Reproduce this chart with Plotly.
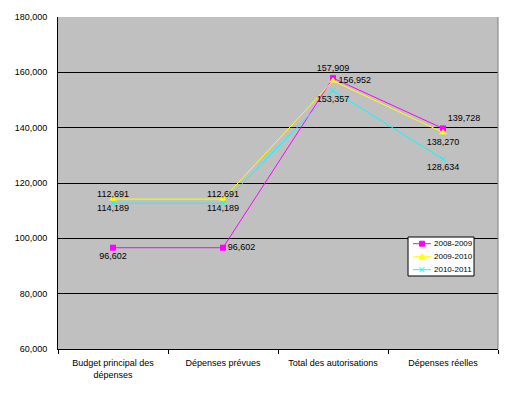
import plotly.graph_objects as go

categories = ["Budget principal des<br>dépenses", "Dépenses prévues", "Total des autorisations", "Dépenses réelles"]
series_names = ["2008-2009", "2009-2010", "2010-2011"]
s2008 = [96602, 96602, 157909, 139728]
s2009 = [114189, 114189, 156952, 138270]
s2010 = [112691, 112691, 153357, 128634]
tick_vals = [60000, 80000, 100000, 120000, 140000, 160000, 180000]
tick_text = ["60,000", "80,000", "100,000", "120,000", "140,000", "160,000", "180,000"]

MAG, YEL, CYA = "#FF00FF", "#FFFF00", "#00FFFF"

def fmt(v):
    return f"{v:,}"

FAM = "Liberation Sans, Arial, sans-serif"
font = dict(family=FAM, size=9, color="black")

fig = go.Figure()
fig.add_trace(go.Scatter(
    x=categories, y=s2008, name=series_names[0], mode="lines+markers+text",
    line=dict(color=MAG, width=1), marker=dict(symbol="square", size=6, color=MAG),
    text=[fmt(v) for v in s2008],
    textposition=["bottom center", "middle right", "top center", "top right"],
    textfont=font, cliponaxis=False))
fig.add_trace(go.Scatter(
    x=categories, y=s2009, name=series_names[1], mode="lines+markers+text",
    line=dict(color=YEL, width=1), marker=dict(symbol="triangle-up", size=7, color=YEL),
    text=[fmt(v) for v in s2009],
    textposition=["bottom center", "bottom center", "middle right", "bottom center"],
    textfont=font, cliponaxis=False))
fig.add_trace(go.Scatter(
    x=categories, y=s2010, name=series_names[2], mode="lines+markers+text",
    line=dict(color=CYA, width=1), marker=dict(symbol="x-thin", size=5, color=CYA, line=dict(color=CYA, width=1)),
    text=[fmt(v) for v in s2010],
    textposition=["top center", "top center", "bottom center", "bottom center"],
    textfont=font, cliponaxis=False))

# page body has an 8px default margin: shrink the figure so the plot lands where the reference has it
fig.update_layout(
    width=514, height=386,
    margin=dict(l=50, r=24, t=9, b=45),
    paper_bgcolor="white", plot_bgcolor="#C0C0C0",
    font=font,
    showlegend=False,
    xaxis=dict(type="category", range=[-0.5, 3.5], tickson="boundaries",
               ticks="outside", ticklen=4, tickcolor="black",
               showline=True, linecolor="black", linewidth=1,
               showgrid=False, mirror=False, tickfont=font, automargin=False,
               ticklabelstandoff=5),
    yaxis=dict(range=[60000, 180000], tickvals=tick_vals, ticktext=tick_text,
               ticks="outside", ticklen=8, tickcolor="rgba(0,0,0,0)",
               showline=True, linecolor="black", linewidth=1,
               showgrid=True, gridcolor="black", gridwidth=1,
               zeroline=False, tickfont=font, automargin=False),
)
fig.add_shape(type="line", xref="paper", yref="paper", x0=1, x1=1, y0=0, y1=1,
              line=dict(color="#808080", width=1))

# custom compact legend (Excel style)
bx0, bx1, by0, by1 = 0.7955, 0.9455, 0.2199, 0.3373
fig.add_shape(type="rect", xref="paper", yref="paper", x0=bx0, x1=bx1, y0=by0, y1=by1,
              line=dict(color="black", width=1), fillcolor="white", layer="above")
rows = [0.3172, 0.2780, 0.2389]
lx0, lx1, lxm, tx = 0.8068, 0.8477, 0.8273, 0.850
colors = [MAG, YEL, CYA]
marker_paths = [
    "M-2.5,-2.5 L2.5,-2.5 L2.5,2.5 L-2.5,2.5 Z",
    "M-3,-2.5 L3,-2.5 L0,3 Z",
    "M-2.5,-2.5 L2.5,2.5 M-2.5,2.5 L2.5,-2.5",
]
for name, col, yy, mp in zip(series_names, colors, rows, marker_paths):
    fig.add_shape(type="line", xref="paper", yref="paper", x0=lx0, x1=lx1, y0=yy, y1=yy,
                  line=dict(color=col, width=1), layer="above")
    fig.add_shape(type="path", xref="paper", yref="paper", xsizemode="pixel", ysizemode="pixel",
                  xanchor=lxm, yanchor=yy, path=mp,
                  fillcolor=col if "Z" in mp else None,
                  line=dict(color=col, width=1), layer="above")
    fig.add_annotation(x=tx, y=yy, xref="paper", yref="paper", text=name, showarrow=False,
                       xanchor="left", yanchor="middle", font=dict(family=FAM, size=8, color="black"))

fig.write_html("out.html")
